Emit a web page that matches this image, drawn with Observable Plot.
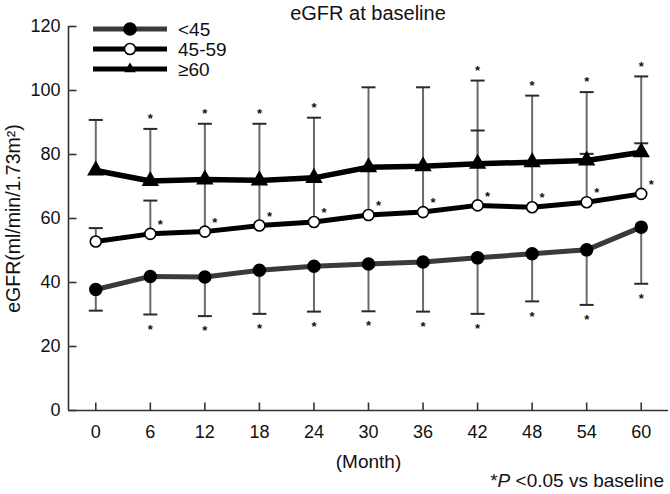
<!DOCTYPE html>
<html><head><meta charset="utf-8">
<script src="https://cdn.jsdelivr.net/npm/d3@7"></script>
<script src="https://cdn.jsdelivr.net/npm/@observablehq/plot@0.6"></script>
<style>
body{margin:0;background:#fff;font-family:"Liberation Sans",Arial,sans-serif;}
#wrap{position:relative;width:670px;height:494px;overflow:hidden;}
#wrap svg{position:absolute;left:0;top:0;}
.t{position:absolute;color:#111;white-space:nowrap;font-family:"Liberation Sans",Arial,sans-serif;}
</style></head><body><div id="wrap"></div>
<script>
// ---- data ----
const months = [0, 6, 12, 18, 24, 30, 36, 42, 48, 54, 60];
const groups = ["<45", "45-59", "≥60"];

const meanLt45   = [37.8, 41.9, 41.7, 43.8, 45.1, 45.8, 46.4, 47.7, 49.0, 50.2, 57.3];
const lowerLt45  = [31.2, 30.0, 29.5, 30.2, 30.9, 31.0, 30.9, 30.2, 34.1, 33.0, 39.6];
const sigLt45    = [false, true, true, true, true, true, true, true, true, true, true];

const mean4559   = [52.8, 55.2, 55.9, 57.8, 58.9, 61.1, 62.0, 64.1, 63.5, 65.1, 67.7];
const upper4559  = [57.0, 65.6, 72.2, 72.0, 72.7, 76.0, 76.3, 87.5, 77.6, 80.2, 83.5];
const sig4559    = [false, true, true, true, true, true, true, true, true, true, true];

const meanGe60   = [75.0, 71.7, 72.2, 71.9, 72.7, 76.0, 76.3, 77.1, 77.6, 78.1, 80.7];
const upperGe60  = [90.8, 88.0, 89.6, 89.6, 91.5, 101.0, 101.0, 103.1, 98.4, 99.5, 104.4];
const sigGe60    = [false, true, true, true, true, false, false, true, true, true, true];

const yTicks = [0, 20, 40, 60, 80, 100, 120];
const xDomain = [-3, 63];
const yDomain = [0, 120];

const titleText = "eGFR at baseline";
const yLabel = "eGFR(ml/min/1.73m²)";
const xLabel = "(Month)";

// ---- tables ----
const mk = (g, means, bars, sigs) => months.map((m, i) => ({group: g, month: m, mean: means[i], bar: bars[i], sig: sigs[i]}));
const dLt45 = mk(groups[0], meanLt45, lowerLt45, sigLt45);
const d4559 = mk(groups[1], mean4559, upper4559, sig4559);
const dGe60 = mk(groups[2], meanGe60, upperGe60, sigGe60);
const all = [...dLt45, ...d4559, ...dGe60];

// custom symbols
const capSym = {draw(ctx, size){ const r = Math.sqrt(size/Math.PI); ctx.moveTo(-r,0); ctx.lineTo(r,0); }};
const tickUp = {draw(ctx, size){ const r = Math.sqrt(size/Math.PI); ctx.moveTo(0,0); ctx.lineTo(0,-r); }};
const tickRight = {draw(ctx, size){ const r = Math.sqrt(size/Math.PI); ctx.moveTo(0,0); ctx.lineTo(r,0); }};

const axisColor = "#333";
const font = "Liberation Sans, Arial, sans-serif";

const plot = Plot.plot({
  width: 670, height: 494,
  marginLeft: 68, marginRight: 2, marginTop: 26, marginBottom: 84,
  style: {fontFamily: font, background: "transparent", color: "#111"},
  x: {domain: xDomain},
  y: {domain: yDomain},
  marks: [
    // error bars
    Plot.ruleX(all, {x: "month", y1: "mean", y2: "bar", stroke: "#6a6a6a", strokeWidth: 2}),
    Plot.dot(all, {x: "month", y: "bar", symbol: capSym, r: 7, stroke: "#2a2a2a", strokeWidth: 2, fill: "none"}),
    // axis lines
    Plot.ruleY([yDomain[0]], {stroke: axisColor, strokeWidth: 1.6}),
    Plot.ruleX([xDomain[0]], {stroke: axisColor, strokeWidth: 1.6}),
    Plot.dot(months, {x: d => d, frameAnchor: "bottom", symbol: tickUp, r: 8, stroke: axisColor, strokeWidth: 1.6}),
    Plot.dot(yTicks, {y: d => d, frameAnchor: "left", symbol: tickRight, r: 8, stroke: axisColor, strokeWidth: 1.6}),
    Plot.axisX({ticks: months, tickSize: 0, tickPadding: 15, fontSize: 18, label: null, tickFormat: d => String(d)}),
    Plot.axisY({ticks: yTicks, tickSize: 0, tickPadding: 8, fontSize: 18, label: null}),
    // lines
    Plot.line(dLt45, {x: "month", y: "mean", stroke: "#3a3a3a", strokeWidth: 5}),
    Plot.line(d4559, {x: "month", y: "mean", stroke: "#000", strokeWidth: 5}),
    Plot.line(dGe60, {x: "month", y: "mean", stroke: "#000", strokeWidth: 5.5}),
    // markers
    Plot.dot(dLt45, {x: "month", y: "mean", r: 6, fill: "#000", stroke: "#000"}),
    Plot.dot(d4559, {x: "month", y: "mean", r: 5.5, fill: "#fff", stroke: "#000", strokeWidth: 1.6}),
    Plot.dot(dGe60, {x: "month", y: "mean", symbol: "triangle", r: 5.5, fill: "#000", stroke: "#000"}),
    // significance stars
    Plot.text(dGe60.filter(d => d.sig), {x: "month", y: "bar", text: () => "*", dy: -10, fontSize: 13, fontWeight: "bold", fill: "#111"}),
    Plot.text(dLt45.filter(d => d.sig), {x: "month", y: "bar", text: () => "*", dy: 15, fontSize: 13, fontWeight: "bold", fill: "#111"}),
    Plot.text(d4559.filter(d => d.sig), {x: "month", y: "mean", text: () => "*", dx: 10, dy: -9, fontSize: 13, fontWeight: "bold", fill: "#111"}),
    // axis labels
    Plot.text([yLabel], {text: d => d, frameAnchor: "left", textAnchor: "middle", dx: -55, rotate: -90, fontSize: 19.5, fill: "#111"}),
    Plot.text([xLabel], {text: d => d, frameAnchor: "bottom", dy: 57, fontSize: 19, fill: "#111"})
  ]
});

const wrap = document.getElementById("wrap");
wrap.appendChild(plot);

// title
const title = document.createElement("div");
title.className = "t";
title.style.cssText = "left:68px;width:600px;top:2px;text-align:center;font-size:20px;";
title.textContent = titleText;
wrap.appendChild(title);

// footnote
const foot = document.createElement("div");
foot.className = "t";
foot.style.cssText = "right:6px;top:470px;font-size:19px;";
foot.innerHTML = "*<i>P</i> &lt;0.05 vs baseline";
wrap.appendChild(foot);

// legend
const legendColors = ["#3a3a3a", "#000", "#000"];
const ns = "http://www.w3.org/2000/svg";
const lg = document.createElementNS(ns, "svg");
lg.setAttribute("width", 260); lg.setAttribute("height", 90);
lg.style.cssText = "position:absolute;left:80px;top:10px;";
groups.forEach((g, i) => {
  const y = 19 + i * 20;
  const ln = document.createElementNS(ns, "line");
  ln.setAttribute("x1", 13); ln.setAttribute("x2", 87); ln.setAttribute("y1", y); ln.setAttribute("y2", y);
  ln.setAttribute("stroke", legendColors[i]); ln.setAttribute("stroke-width", 5);
  lg.appendChild(ln);
  let m;
  if (i === 2) {
    m = document.createElementNS(ns, "path");
    m.setAttribute("d", d3.symbol(d3.symbolTriangle2, 30 * Math.PI)());
    m.setAttribute("transform", `translate(50,${y})`);
    m.setAttribute("fill", "#000");
  } else {
    m = document.createElementNS(ns, "circle");
    m.setAttribute("cx", 50); m.setAttribute("cy", y);
    m.setAttribute("r", i === 0 ? 6 : 5.5);
    m.setAttribute("fill", i === 0 ? "#000" : "#fff");
    m.setAttribute("stroke", "#000"); m.setAttribute("stroke-width", 1.6);
  }
  lg.appendChild(m);
  const tx = document.createElementNS(ns, "text");
  tx.setAttribute("x", 98); tx.setAttribute("y", y + 6.5);
  tx.setAttribute("font-size", 19); tx.setAttribute("font-family", font); tx.setAttribute("fill", "#111");
  tx.textContent = g;
  lg.appendChild(tx);
});
wrap.appendChild(lg);
</script>
</body></html>
